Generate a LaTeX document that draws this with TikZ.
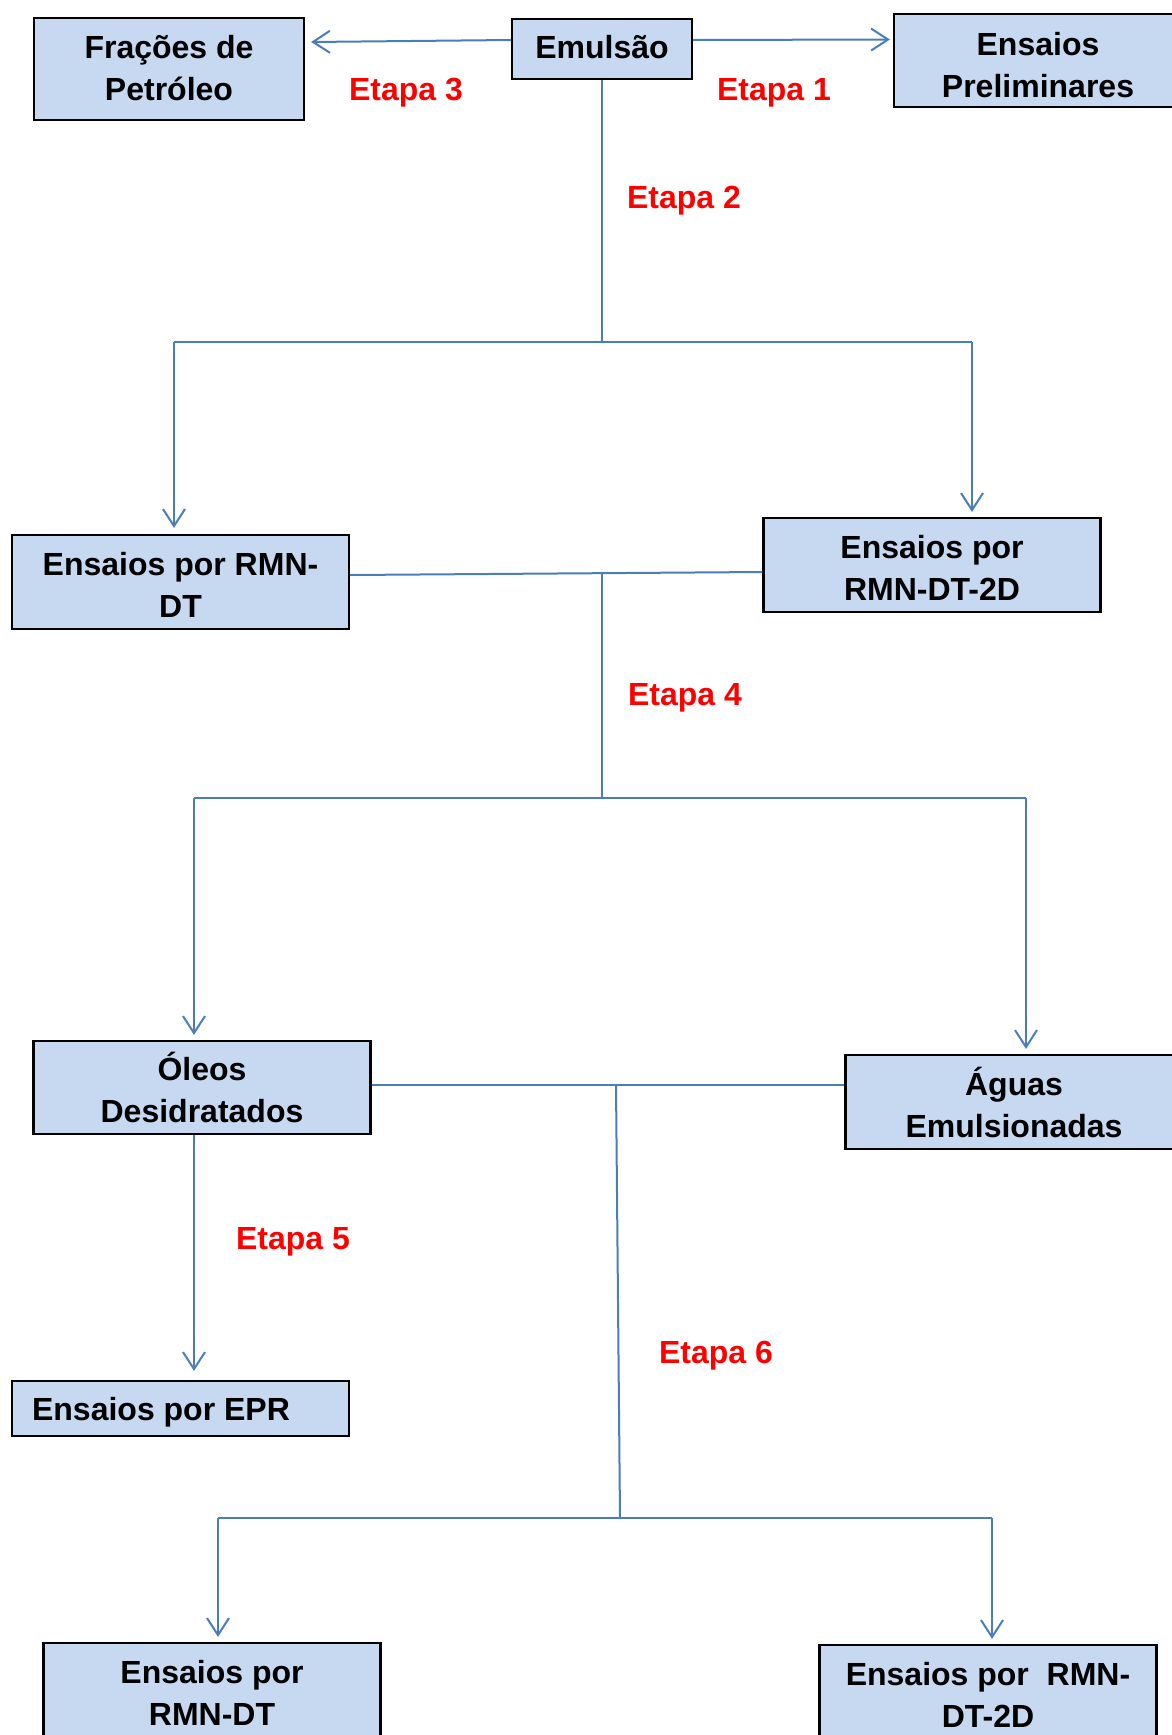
\documentclass[tikz,border=0pt]{standalone}
\usepackage{fontspec}
\setmainfont{Liberation Sans}
\usetikzlibrary{arrows.meta}
\definecolor{boxfill}{HTML}{C6D9F1}
\definecolor{linkblue}{HTML}{4A7EBB}
\definecolor{stepred}{HTML}{FF0000}
\tikzset{
  box/.style={draw=black, line width=2.2pt, fill=boxfill, minimum width=337pt, minimum height=94pt,
    inner sep=0pt},
  txt/.style={align=center, inner sep=0pt, font=\fontsize{32}{42}\selectfont\bfseries},
  etapa/.style={text=stepred, font=\fontsize{32}{38}\selectfont\bfseries, inner sep=0pt},
  conn/.style={draw=linkblue, line width=2pt},
  arr/.style={conn, -{Straight Barb[length=17pt,width=22pt,line width=2pt]}}
}
\begin{document}
\begin{tikzpicture}[x=1pt,y=-1pt]
\useasboundingbox (0,0) rectangle (1172,1735);
\clip (0,0) rectangle (1172,1735);
% boxes
\node[box, minimum width=270pt, minimum height=102pt] (frac) at (169,69) {};
\node[box, minimum width=180pt, minimum height=60pt] (emul) at (602,49) {};
\node[box, minimum width=288pt, minimum height=93pt] (prel) at (1038,60.5) {};
\node[box] (rmn1) at (180.5,582) {};
\node[box] (rmn2) at (932,565) {};
\node[box, minimum height=93pt] (oleos) at (202,1087.5) {};
\node[box] (aguas) at (1014,1102) {};
\node[box, minimum height=55pt] (epr) at (180.5,1408.5) {};
\node[box] (b1) at (212,1690) {};
\node[box] (b2) at (988,1692) {};
% box texts
\node[txt] (fract) at ([yshift=1pt]frac.center) {Frações de\\Petróleo};
\node[txt] (emult) at ([yshift=1.5pt]emul.center) {Emulsão};
\node[txt] (prelt) at ([yshift=-4.5pt]prel.center) {Ensaios\\Preliminares};
\node[txt] (rmn1t) at ([yshift=-2.5pt]rmn1.center) {Ensaios por RMN-\\DT};
\node[txt] (rmn2t) at ([yshift=-2.5pt]rmn2.center) {Ensaios por\\RMN-DT-2D};
\node[txt] (oleost) at ([yshift=0pt]oleos.center) {Óleos\\Desidratados};
\node[txt] (aguast) at ([yshift=0pt]aguas.center) {Águas\\Emulsionadas};
\node[txt, anchor=west] (eprt) at ([xshift=21pt,yshift=-4pt]epr.west) {Ensaios por EPR};
\node[txt] (b1t) at ([yshift=-2.5pt]b1.center) {Ensaios por\\RMN-DT};
\node[txt] (b2t) at ([yshift=-2.5pt]b2.center) {Ensaios por\ \ RMN-\\DT-2D};
% labels
\node[etapa] (e3) at (406,92.5) {Etapa 3};
\node[etapa] (e1) at (774,92.5) {Etapa 1};
\node[etapa] (e2) at (684,200.5) {Etapa 2};
\node[etapa] (e4) at (685,697.5) {Etapa 4};
\node[etapa] (e5) at (293,1241.5) {Etapa 5};
\node[etapa] (e6) at (716,1355.5) {Etapa 6};
% junction coordinates
\coordinate (j1) at (602,342);
\coordinate (j1l) at (174,342);
\coordinate (j1r) at (972,342);
\coordinate (j2t) at (602,573.5);
\coordinate (j2) at (602,798);
\coordinate (j2l) at (194,798);
\coordinate (j2r) at (1026,798);
\coordinate (j3t) at (616,1085);
\coordinate (j3) at (620,1518);
\coordinate (j3l) at (218,1518);
\coordinate (j3r) at (992,1518);
% connectors
\draw[arr] ([yshift=9pt]emul.west) -- ([xshift=6pt,yshift=27pt]frac.east);
\draw[arr] ([yshift=9pt]emul.east) -- ([xshift=-3pt,yshift=21pt]prel.west);
\draw[conn] (emul.south) -- (j1);
\draw[conn] (j1l) -- (j1r);
\draw[arr] (j1l) -- ([yshift=6pt]j1l |- rmn1.north);
\draw[arr] (j1r) -- ([yshift=5pt]j1r |- rmn2.north);
\draw[conn] ([yshift=7pt]rmn1.east) -- ([yshift=-7pt]rmn2.west);
\draw[conn] (j2t) -- (j2);
\draw[conn] (j2l) -- (j2r);
\draw[arr] (j2l) -- ([yshift=5pt]j2l |- oleos.north);
\draw[arr] (j2r) -- ([yshift=5pt]j2r |- aguas.north);
\draw[conn] ([yshift=2.5pt]oleos.east) -- ([yshift=17pt]aguas.west);
\draw[conn] (j3t) -- (j3);
\draw[conn] (j3l) -- (j3r);
\draw[arr] (oleos.south -| j2l) -- ([yshift=9pt]j2l |- epr.north);
\draw[arr] (j3l) -- ([yshift=5pt]j3l |- b1.north);
\draw[arr] (j3r) -- ([yshift=5pt]j3r |- b2.north);
\end{tikzpicture}
\end{document}
